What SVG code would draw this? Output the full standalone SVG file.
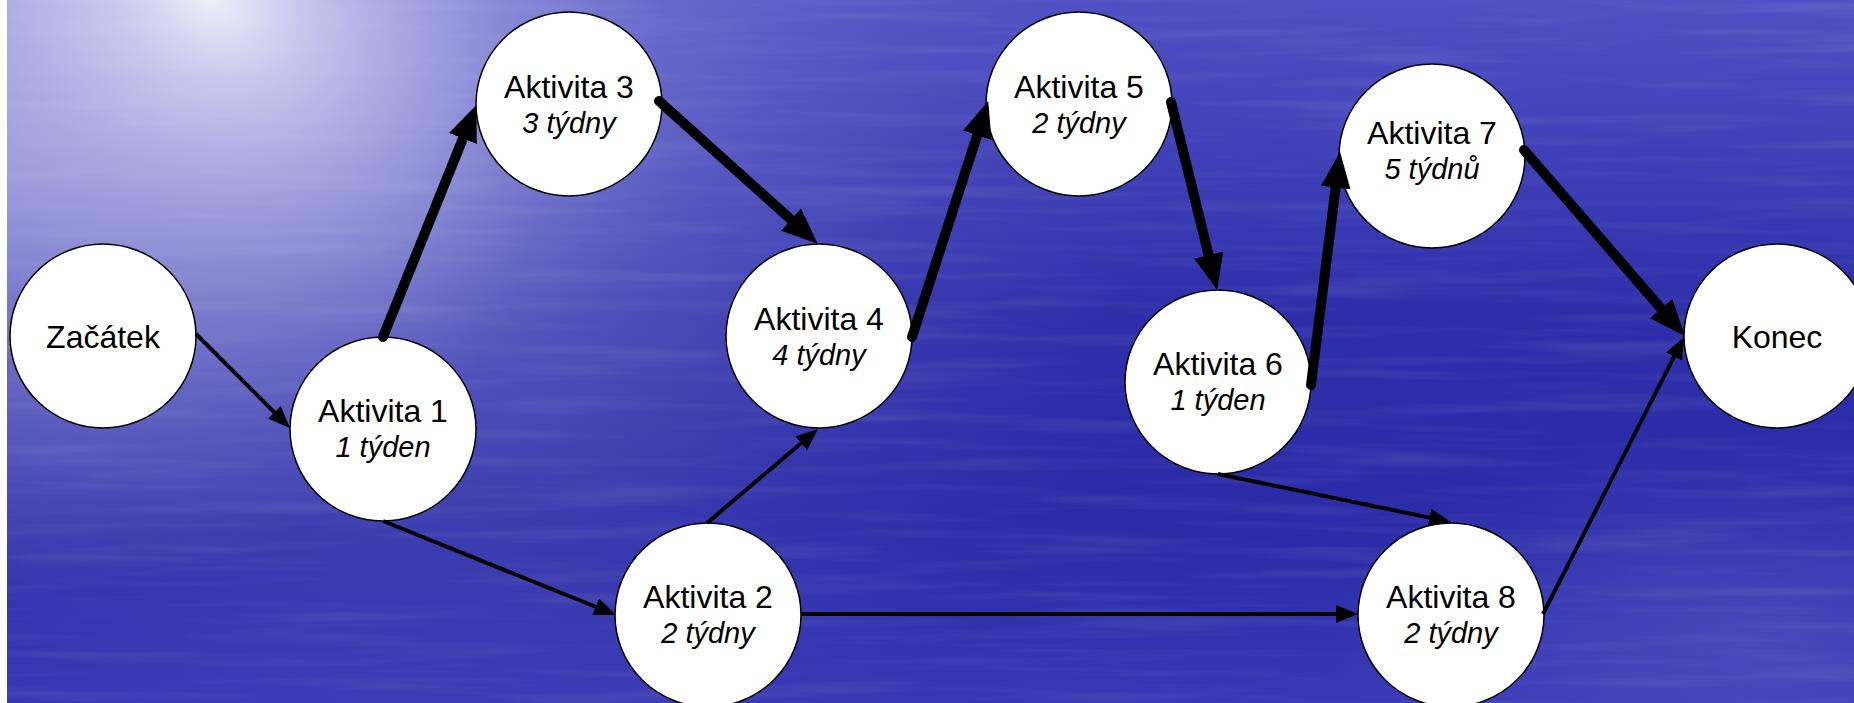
<svg xmlns="http://www.w3.org/2000/svg" width="1854" height="703" viewBox="0 0 1854 703">
<defs>
  <linearGradient id="bgv" x1="0" y1="0" x2="0" y2="1">
    <stop offset="0" stop-color="#5050c4"/>
    <stop offset="0.45" stop-color="#2e2eaa"/>
    <stop offset="0.75" stop-color="#2b2ba8"/>
    <stop offset="1" stop-color="#3838b4"/>
  </linearGradient>
  <radialGradient id="glare" gradientUnits="userSpaceOnUse" cx="210" cy="0" r="1000" gradientTransform="translate(210 0) rotate(30) scale(1 0.72) translate(-210 0)">
    <stop offset="0" stop-color="#ffffff" stop-opacity="0.88"/>
    <stop offset="0.1" stop-color="#ececfa" stop-opacity="0.72"/>
    <stop offset="0.28" stop-color="#cdcdf0" stop-opacity="0.52"/>
    <stop offset="0.5" stop-color="#a8a8e2" stop-opacity="0.28"/>
    <stop offset="0.75" stop-color="#9090d8" stop-opacity="0.1"/>
    <stop offset="1" stop-color="#8080d0" stop-opacity="0"/>
  </radialGradient>
  <radialGradient id="haze" gradientUnits="userSpaceOnUse" cx="0" cy="170" r="540" gradientTransform="translate(0 170) scale(1 0.8) translate(0 -170)">
    <stop offset="0" stop-color="#dcdcf6" stop-opacity="0.45"/>
    <stop offset="1" stop-color="#dcdcf6" stop-opacity="0"/>
  </radialGradient>
  <radialGradient id="glow2" gradientUnits="userSpaceOnUse" cx="1750" cy="640" r="420" gradientTransform="translate(1750 640) scale(1 0.5) translate(-1750 -640)">
    <stop offset="0" stop-color="#6a6ad0" stop-opacity="0.4"/>
    <stop offset="1" stop-color="#6a6ad0" stop-opacity="0"/>
  </radialGradient>
  <filter id="water" x="0" y="0" width="100%" height="100%">
    <feTurbulence type="fractalNoise" baseFrequency="0.004 0.07" numOctaves="3" seed="7"/>
    <feColorMatrix type="matrix" values="0 0 0 0 1  0 0 0 0 1  0 0 0 0 1  1.6 0 0 0 -0.75"/>
  </filter>
  <marker id="ahThin" markerUnits="userSpaceOnUse" markerWidth="24" markerHeight="20" refX="10" refY="9" orient="auto">
    <path d="M0,0 L22,9 L0,18 z" fill="#000"/>
  </marker>
  <marker id="ahThick" markerUnits="userSpaceOnUse" markerWidth="38" markerHeight="32" refX="15" refY="15" orient="auto">
    <path d="M0,0 L36,15 L0,30 z" fill="#000"/>
  </marker>
  <style>
    .node ellipse { fill: #ffffff; stroke: #000000; stroke-width: 1.5; }
    .title { font-family: "Liberation Sans", Arial, sans-serif; font-size: 32px; fill: #000; text-anchor: middle; }
    .sub { font-family: "Liberation Sans", Arial, sans-serif; font-size: 29px; font-style: italic; fill: #000; text-anchor: middle; }
    .thin { fill: none; stroke: #000; stroke-width: 4; marker-end: url(#ahThin); }
    .thick { fill: none; stroke: #000; stroke-width: 10; stroke-linecap: round; marker-end: url(#ahThick); }
  </style>
</defs>

<g id="background">
  <rect x="0" y="0" width="1854" height="703" fill="#ffffff"/>
  <rect x="7" y="0" width="1847" height="703" fill="url(#bgv)"/>
  <rect x="7" y="0" width="1847" height="703" fill="url(#glow2)"/>
  <rect x="7" y="0" width="1847" height="703" filter="url(#water)" opacity="0.13"/>
  <rect x="7" y="0" width="1847" height="703" fill="url(#haze)"/>
  <rect x="7" y="0" width="1847" height="703" fill="url(#glare)"/>
</g>

<g id="node-zacatek" class="node">
  <ellipse cx="103" cy="336" rx="93" ry="92"/>
  <text class="title" x="103" y="348">Začátek</text>
</g>
<g id="node-a1" class="node">
  <ellipse cx="383" cy="429" rx="93" ry="92"/>
  <text class="title" x="383" y="422">Aktivita 1</text>
  <text class="sub" x="383" y="457">1 týden</text>
</g>
<g id="node-a2" class="node">
  <ellipse cx="708" cy="615" rx="93" ry="92"/>
  <text class="title" x="708" y="608">Aktivita 2</text>
  <text class="sub" x="708" y="643">2 týdny</text>
</g>
<g id="node-a3" class="node">
  <ellipse cx="569" cy="104" rx="93" ry="92"/>
  <text class="title" x="569" y="98">Aktivita 3</text>
  <text class="sub" x="569" y="133">3 týdny</text>
</g>
<g id="node-a4" class="node">
  <ellipse cx="819" cy="336" rx="93" ry="92"/>
  <text class="title" x="819" y="330">Aktivita 4</text>
  <text class="sub" x="819" y="365">4 týdny</text>
</g>
<g id="node-a5" class="node">
  <ellipse cx="1079" cy="104" rx="93" ry="92"/>
  <text class="title" x="1079" y="98">Aktivita 5</text>
  <text class="sub" x="1079" y="133">2 týdny</text>
</g>
<g id="node-a6" class="node">
  <ellipse cx="1218" cy="382" rx="93" ry="92"/>
  <text class="title" x="1218" y="375">Aktivita 6</text>
  <text class="sub" x="1218" y="410">1 týden</text>
</g>
<g id="node-a7" class="node">
  <ellipse cx="1432" cy="156" rx="93" ry="92"/>
  <text class="title" x="1432" y="144">Aktivita 7</text>
  <text class="sub" x="1432" y="179">5 týdnů</text>
</g>
<g id="node-a8" class="node">
  <ellipse cx="1451" cy="615" rx="93" ry="92"/>
  <text class="title" x="1451" y="608">Aktivita 8</text>
  <text class="sub" x="1451" y="643">2 týdny</text>
</g>
<g id="node-konec" class="node">
  <ellipse cx="1777" cy="336" rx="93" ry="92"/>
  <text class="title" x="1777" y="348">Konec</text>
</g>

<g id="connectors">
  <path class="thin" d="M196,334 L281.5,419.5"/>
  <path class="thin" d="M383,521 L604.9,610.5"/>
  <path class="thick" d="M383,337 L468.5,124.6"/>
  <path class="thick" d="M659,101 L802.1,229.6"/>
  <path class="thick" d="M912,337 L981.8,121"/>
  <path class="thick" d="M1171,102 L1212.2,269.6"/>
  <path class="thin" d="M707,523 L808.8,436.8"/>
  <path class="thin" d="M801,614 L1346,614"/>
  <path class="thin" d="M1218,474 L1439.2,519.6"/>
  <path class="thick" d="M1311,385 L1337.5,172.8"/>
  <path class="thick" d="M1524,150 L1670.9,319.9"/>
  <path class="thin" d="M1543,614 L1678.6,347.7"/>
</g>
</svg>
